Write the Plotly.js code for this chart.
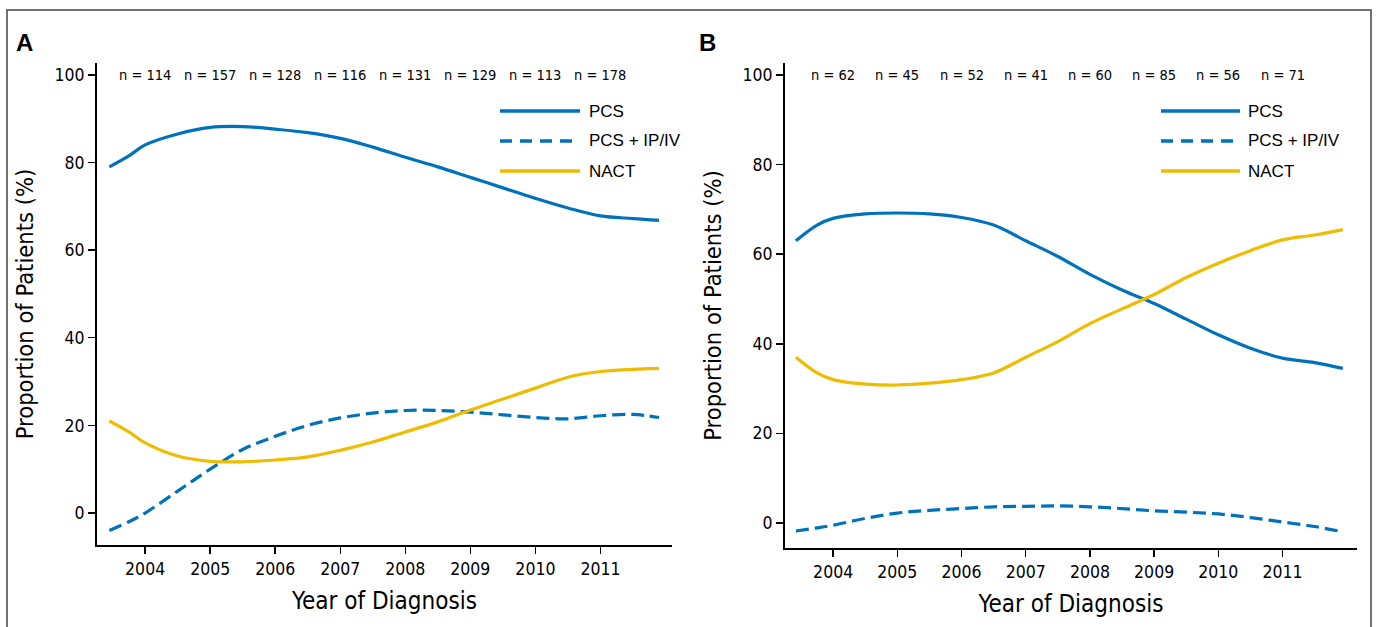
<!DOCTYPE html>
<html><head><meta charset="utf-8">
<script src="https://cdn.plot.ly/plotly-3.0.1.min.js"></script>
<style>html,body{margin:0;padding:0;background:#fff}#chart{width:1377px;height:627px}</style>
</head><body><div id="chart"></div>
<script>
// ---- data ----
const yearsA = [2003.45, 2003.75, 2004, 2004.5, 2005, 2005.5, 2006, 2006.5, 2007, 2007.5, 2008, 2008.5, 2009, 2009.5, 2010, 2010.5, 2011, 2011.5, 2011.9];
const pcsA   = [79, 81.5, 84, 86.5, 88, 88.2, 87.6, 86.8, 85.5, 83.5, 81.2, 79, 76.6, 74.2, 71.8, 69.6, 67.8, 67.2, 66.8];
const ipivA  = [-4, -2, 0, 5, 10, 14.5, 17.5, 20, 21.7, 22.8, 23.4, 23.4, 23, 22.4, 21.8, 21.5, 22.2, 22.5, 21.8];
const nactA  = [21, 18.5, 16, 13, 11.8, 11.7, 12.1, 12.8, 14.3, 16.2, 18.5, 20.8, 23.5, 26, 28.5, 31, 32.3, 32.8, 33];

const yearsB = [2003.42, 2003.75, 2004, 2004.5, 2005, 2005.5, 2006, 2006.5, 2007, 2007.5, 2008, 2008.5, 2009, 2009.5, 2010, 2010.5, 2011, 2011.5, 2011.94];
const pcsB   = [63, 66.5, 68, 69, 69.2, 69, 68.2, 66.5, 63, 59.5, 55.5, 52, 49, 45.5, 42, 39, 36.8, 35.8, 34.5];
const ipivB  = [-1.8, -1.1, -0.5, 1, 2.2, 2.8, 3.2, 3.6, 3.7, 3.8, 3.6, 3.2, 2.7, 2.4, 2, 1.2, 0.2, -0.8, -2];
const nactB  = [37, 33.5, 32, 31, 30.8, 31.2, 32, 33.5, 37, 40.5, 44.5, 47.8, 51, 54.8, 58, 60.8, 63.2, 64.3, 65.5];

const tickYears = [2004, 2005, 2006, 2007, 2008, 2009, 2010, 2011];
const nA = [114, 157, 128, 116, 131, 129, 113, 178];
const nB = [62, 45, 52, 41, 60, 85, 56, 71];
const seriesNames = ['PCS', 'PCS + IP/IV', 'NACT'];
const yTicks = [0, 20, 40, 60, 80, 100];

// ---- style ----
const BLUE = 'rgb(0,114,188)';
const GOLD = 'rgb(238,188,0)';
const COND = '"Liberation Sans Narrow", "DejaVu Sans Condensed", "Arial Narrow", sans-serif';
const REG = '"Liberation Sans", Arial, sans-serif';
const W = 1377, H = 627;
const px = x => x / W, py = y => 1 - y / H;

function line(x, y, color, dash, xa, ya) {
  return {x, y, type: 'scatter', mode: 'lines', xaxis: xa, yaxis: ya, showlegend: false,
    line: {color, width: 3.2, dash, shape: 'spline', smoothing: 1}, hoverinfo: 'skip'};
}
const data = [
  line(yearsA, pcsA, BLUE, 'solid', 'x', 'y'),
  line(yearsA, ipivA, BLUE, '13px,6px', 'x', 'y'),
  line(yearsA, nactA, GOLD, 'solid', 'x', 'y'),
  line(yearsB, pcsB, BLUE, 'solid', 'x2', 'y2'),
  line(yearsB, ipivB, BLUE, '13px,6px', 'x2', 'y2'),
  line(yearsB, nactB, GOLD, 'solid', 'x2', 'y2'),
];

function xax(domain, range, anchor) {
  return {domain, range, anchor, tickvals: tickYears, ticktext: tickYears.map(String),
    showgrid: false, zeroline: false, showline: true, linecolor: '#000', linewidth: 2,
    ticks: 'outside', ticklen: 7, tickwidth: 1.5, tickcolor: '#000',
    tickfont: {family: COND, size: 17.5, color: '#000'},
    title: {text: 'Year of Diagnosis', font: {family: COND, size: 24, color: '#000'}, standoff: 14}};
}
function yax(domain, range, anchor) {
  return {domain, range, anchor, tickvals: yTicks, ticktext: yTicks.map(String),
    showgrid: false, zeroline: false, showline: true, linecolor: '#000', linewidth: 2,
    ticks: 'outside', ticklen: 7, tickwidth: 1.5, tickcolor: '#000',
    tickfont: {family: COND, size: 17.5, color: '#000'},
    title: {text: 'Proportion of Patients (%)', font: {family: COND, size: 23.5, color: '#000'}, standoff: 14}};
}

const annotations = [];
tickYears.forEach((yr, i) => {
  annotations.push({x: yr, y: 100, xref: 'x', yref: 'y', text: 'n = ' + nA[i], showarrow: false,
    xanchor: 'center', yanchor: 'middle', font: {family: COND, size: 14.5, color: '#000'}});
  annotations.push({x: yr, y: 100, xref: 'x2', yref: 'y2', text: 'n = ' + nB[i], showarrow: false,
    xanchor: 'center', yanchor: 'middle', font: {family: COND, size: 14.5, color: '#000'}});
});
annotations.push({x: px(14), y: py(42), xref: 'paper', yref: 'paper', text: '<b>A</b>', showarrow: false,
  xanchor: 'left', yanchor: 'middle', font: {family: REG, size: 24, color: '#000'}});
annotations.push({x: px(697), y: py(42), xref: 'paper', yref: 'paper', text: '<b>B</b>', showarrow: false,
  xanchor: 'left', yanchor: 'middle', font: {family: REG, size: 24, color: '#000'}});

const shapes = [
  {type: 'rect', xref: 'paper', yref: 'paper', x0: px(7), x1: px(1371), y0: -0.05, y1: py(10),
   line: {color: '#444', width: 1.5}, fillcolor: 'rgba(0,0,0,0)'}
];
const legStyles = [[BLUE, 'solid'], [BLUE, '12px,8px'], [GOLD, 'solid']];
const legRows = [111, 141, 171];
[[500, 580, 587], [1161, 1240, 1246]].forEach(([l0, l1, tx]) => {
  seriesNames.forEach((nm, i) => {
    shapes.push({type: 'line', xref: 'paper', yref: 'paper', x0: px(l0), x1: px(l1), y0: py(legRows[i]), y1: py(legRows[i]),
      line: {color: legStyles[i][0], width: 3.5, dash: legStyles[i][1]}});
    annotations.push({x: px(tx), y: py(legRows[i]), xref: 'paper', yref: 'paper', text: nm, showarrow: false,
      xanchor: 'left', yanchor: 'middle', font: {family: REG, size: 17, color: '#000'}});
  });
});

const layout = {
  width: W, height: H, margin: {l: 0, r: 0, t: 0, b: 0},
  paper_bgcolor: '#fff', plot_bgcolor: '#fff', showlegend: false,
  xaxis: xax([px(97), px(672)], [2003.26, 2012.1], 'y'),
  yaxis: yax([py(545), py(63)], [-7.3, 102.7], 'x'),
  xaxis2: xax([px(785), px(1357)], [2003.25, 2012.16], 'y2'),
  yaxis2: yax([py(548), py(63)], [-5.6, 102.7], 'x2'),
  annotations, shapes
};
Plotly.newPlot('chart', data, layout, {displayModeBar: false, staticPlot: true});
</script></body></html>
